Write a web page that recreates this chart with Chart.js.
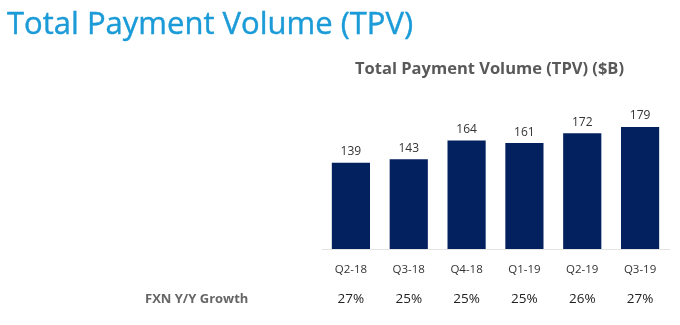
<!DOCTYPE html>
<html>
<head>
<meta charset="utf-8">
<script src="https://cdn.jsdelivr.net/npm/chart.js@4"></script>
<style>
  body { margin: 0; background: #fff; }
  #wrap { position: relative; width: 680px; height: 325px; }
  #title { position: absolute; left: 7px; top: 1px; font-family: 'Open Sans', sans-serif; font-size: 31px; color: #1b9bd7; white-space: nowrap; -webkit-text-stroke: 0.4px #1b9bd7; }
  #sub { position: absolute; left: 355px; top: 56px; font-family: 'Open Sans', sans-serif; font-weight: bold; font-size: 16.5px; color: #595959; white-space: nowrap; }
  canvas { position: absolute; left: 0; top: 0; }
</style>
</head>
<body>
<div id="wrap">
  <canvas id="tpv" width="680" height="325"></canvas>
  <div id="title">Total Payment Volume (TPV)</div>
  <div id="sub">Total Payment Volume (TPV) ($B)</div>
</div>
<script>
var quarters = ['Q2-18', 'Q3-18', 'Q4-18', 'Q1-19', 'Q2-19', 'Q3-19'];
var tpv = [139, 143, 164, 161, 172, 179];
var fxnGrowth = ['27%', '25%', '25%', '25%', '26%', '27%'];

// numbers above bars + the growth row under the axis
var extraText = {
    id: 'extraText',
    afterDatasetsDraw: function (chart) {
        var ctx = chart.ctx;
        var meta = chart.getDatasetMeta(0);
        var x = chart.scales.x;
        ctx.save();
        ctx.textAlign = 'center';
        ctx.textBaseline = 'bottom';
        ctx.fillStyle = '#333333';
        ctx.font = '12px "Open Sans", sans-serif';
        meta.data.forEach(function (bar, i) {
            ctx.fillText(tpv[i], bar.x, bar.y - 5);
        });

        ctx.textBaseline = 'middle';
        ctx.fillStyle = '#222222';
        ctx.font = '13.5px "Open Sans", sans-serif';
        fxnGrowth.forEach(function (g, i) {
            ctx.fillText(g, x.getPixelForValue(i), 299);
        });
        ctx.textAlign = 'left';
        ctx.fillStyle = '#666666';
        ctx.font = 'bold 13px "Open Sans", sans-serif';
        ctx.fillText('FXN Y/Y Growth', 145, 299);
        ctx.restore();
    }
};

var ctx = document.getElementById('tpv').getContext('2d');
var myChart = new Chart(ctx, {
    type: 'bar',
    data: {
        labels: quarters,
        datasets: [{
            label: 'TPV ($B)',
            data: tpv,
            backgroundColor: '#03205f',
            barPercentage: 0.66,
            categoryPercentage: 1
        }]
    },
    options: {
        responsive: false,
        animation: false,
        layout: { padding: { left: 322, right: 11, top: 100, bottom: 0 } },
        plugins: {
            legend: { display: false },
            tooltip: { enabled: false }
        },
        scales: {
            x: {
                grid: { display: false },
                border: { color: '#e3e3e3', width: 1 },
                ticks: { color: '#333333', font: { family: 'Open Sans', size: 11.5 }, padding: 6 },
                afterFit: function (s) { s.height = 76; }
            },
            y: {
                display: false,
                min: 43,
                max: 209
            }
        }
    },
    plugins: [extraText]
});
</script>
</body>
</html>
